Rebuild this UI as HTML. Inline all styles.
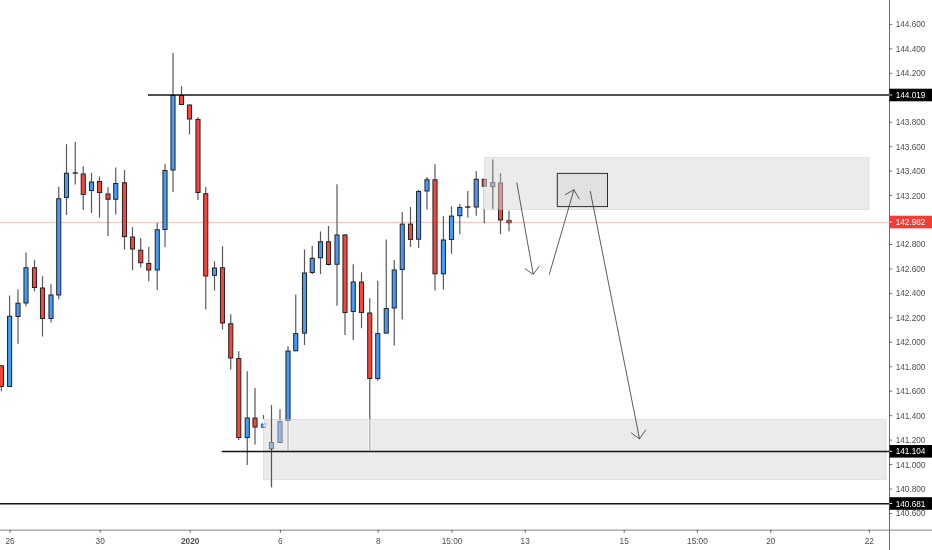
<!DOCTYPE html>
<html lang="en"><head><meta charset="utf-8"><title>Chart</title>
<style>html,body{margin:0;padding:0;background:#fff}body{width:932px;height:550px;overflow:hidden;position:relative}</style>
</head><body>
<svg width="932" height="550" viewBox="0 0 932 550" style="position:absolute;left:0;top:0">
<rect width="932" height="550" fill="#fff"/>
<line x1="0" y1="222.3" x2="889" y2="222.3" stroke="#f8b4b0" stroke-width="0.9"/>
<g id="candles">
<line x1="1.35" y1="365.25" x2="1.35" y2="391.25" stroke="#59595c" stroke-width="1.2"/>
<rect x="-0.70" y="365.75" width="4.10" height="20.75" fill="#fa4439" stroke="#222" stroke-width="1.0"/>
<line x1="9.6" y1="295.5" x2="9.6" y2="387.0" stroke="#59595c" stroke-width="1.2"/>
<rect x="7.55" y="316.25" width="4.10" height="70.25" fill="#459bfb" stroke="#222" stroke-width="1.0"/>
<line x1="18" y1="289.5" x2="18" y2="343.75" stroke="#59595c" stroke-width="1.2"/>
<rect x="15.95" y="303.25" width="4.10" height="13.25" fill="#459bfb" stroke="#222" stroke-width="1.0"/>
<line x1="26" y1="252.5" x2="26" y2="306.25" stroke="#59595c" stroke-width="1.2"/>
<rect x="23.95" y="267.75" width="4.10" height="35.25" fill="#459bfb" stroke="#222" stroke-width="1.0"/>
<line x1="34.5" y1="260" x2="34.5" y2="291.25" stroke="#59595c" stroke-width="1.2"/>
<rect x="32.45" y="267.75" width="4.10" height="19.75" fill="#fa4439" stroke="#222" stroke-width="1.0"/>
<line x1="42.5" y1="276.25" x2="42.5" y2="336.5" stroke="#59595c" stroke-width="1.2"/>
<rect x="40.45" y="288.00" width="4.10" height="30.50" fill="#fa4439" stroke="#222" stroke-width="1.0"/>
<line x1="51" y1="284.25" x2="51" y2="322.5" stroke="#59595c" stroke-width="1.2"/>
<rect x="48.95" y="295.00" width="4.10" height="23.50" fill="#459bfb" stroke="#222" stroke-width="1.0"/>
<line x1="58.75" y1="186.75" x2="58.75" y2="299.25" stroke="#59595c" stroke-width="1.2"/>
<rect x="56.70" y="198.75" width="4.10" height="96.25" fill="#459bfb" stroke="#222" stroke-width="1.0"/>
<line x1="66.5" y1="144.25" x2="66.5" y2="215" stroke="#59595c" stroke-width="1.2"/>
<rect x="64.45" y="173.25" width="4.10" height="24.25" fill="#459bfb" stroke="#222" stroke-width="1.0"/>
<line x1="75.25" y1="141.75" x2="75.25" y2="184.5" stroke="#59595c" stroke-width="1.2"/>
<line x1="72.65" y1="173" x2="77.85" y2="173" stroke="#111" stroke-width="1.3"/>
<line x1="83.25" y1="166.25" x2="83.25" y2="210" stroke="#59595c" stroke-width="1.2"/>
<rect x="81.20" y="174.00" width="4.10" height="20.50" fill="#fa4439" stroke="#222" stroke-width="1.0"/>
<line x1="91.5" y1="172.75" x2="91.5" y2="213" stroke="#59595c" stroke-width="1.2"/>
<rect x="89.45" y="182.00" width="4.10" height="8.50" fill="#459bfb" stroke="#222" stroke-width="1.0"/>
<line x1="99.5" y1="176.5" x2="99.5" y2="217.5" stroke="#59595c" stroke-width="1.2"/>
<rect x="97.45" y="181.50" width="4.10" height="11.00" fill="#fa4439" stroke="#222" stroke-width="1.0"/>
<line x1="108" y1="187.25" x2="108" y2="236" stroke="#59595c" stroke-width="1.2"/>
<rect x="105.95" y="194.00" width="4.10" height="5.25" fill="#fa4439" stroke="#222" stroke-width="1.0"/>
<line x1="115.75" y1="167.5" x2="115.75" y2="214.5" stroke="#59595c" stroke-width="1.2"/>
<rect x="113.70" y="183.50" width="4.10" height="15.75" fill="#459bfb" stroke="#222" stroke-width="1.0"/>
<line x1="124.5" y1="170" x2="124.5" y2="249.4" stroke="#59595c" stroke-width="1.2"/>
<rect x="122.45" y="182.75" width="4.10" height="53.85" fill="#fa4439" stroke="#222" stroke-width="1.0"/>
<line x1="132.5" y1="227.25" x2="132.5" y2="270.25" stroke="#59595c" stroke-width="1.2"/>
<rect x="130.45" y="237.10" width="4.10" height="11.90" fill="#fa4439" stroke="#222" stroke-width="1.0"/>
<line x1="140.75" y1="238" x2="140.75" y2="267.5" stroke="#59595c" stroke-width="1.2"/>
<rect x="138.70" y="250.25" width="4.10" height="12.50" fill="#fa4439" stroke="#222" stroke-width="1.0"/>
<line x1="148.75" y1="247" x2="148.75" y2="281.25" stroke="#59595c" stroke-width="1.2"/>
<rect x="146.70" y="263.50" width="4.10" height="6.50" fill="#fa4439" stroke="#222" stroke-width="1.0"/>
<line x1="157.25" y1="222.75" x2="157.25" y2="290" stroke="#59595c" stroke-width="1.2"/>
<rect x="155.20" y="229.75" width="4.10" height="40.25" fill="#459bfb" stroke="#222" stroke-width="1.0"/>
<line x1="165" y1="164" x2="165" y2="247" stroke="#59595c" stroke-width="1.2"/>
<rect x="162.95" y="170.50" width="4.10" height="59.00" fill="#459bfb" stroke="#222" stroke-width="1.0"/>
<line x1="173" y1="53" x2="173" y2="192" stroke="#59595c" stroke-width="1.2"/>
<rect x="170.95" y="95.50" width="4.10" height="74.50" fill="#459bfb" stroke="#222" stroke-width="1.0"/>
<line x1="181.5" y1="86.25" x2="181.5" y2="105.0" stroke="#59595c" stroke-width="1.2"/>
<rect x="179.45" y="95.50" width="4.10" height="9.00" fill="#fa4439" stroke="#222" stroke-width="1.0"/>
<line x1="189.5" y1="104.5" x2="189.5" y2="134.5" stroke="#59595c" stroke-width="1.2"/>
<rect x="187.45" y="105.00" width="4.10" height="14.00" fill="#fa4439" stroke="#222" stroke-width="1.0"/>
<line x1="198" y1="117" x2="198" y2="200" stroke="#59595c" stroke-width="1.2"/>
<rect x="195.95" y="119.50" width="4.10" height="73.00" fill="#fa4439" stroke="#222" stroke-width="1.0"/>
<line x1="205.75" y1="187" x2="205.75" y2="309.5" stroke="#59595c" stroke-width="1.2"/>
<rect x="203.70" y="193.75" width="4.10" height="82.25" fill="#fa4439" stroke="#222" stroke-width="1.0"/>
<line x1="214.5" y1="261.25" x2="214.5" y2="290.5" stroke="#59595c" stroke-width="1.2"/>
<rect x="212.45" y="268.00" width="4.10" height="7.25" fill="#459bfb" stroke="#222" stroke-width="1.0"/>
<line x1="222.5" y1="246.25" x2="222.5" y2="329.5" stroke="#59595c" stroke-width="1.2"/>
<rect x="220.45" y="267.75" width="4.10" height="55.25" fill="#fa4439" stroke="#222" stroke-width="1.0"/>
<line x1="230.75" y1="314.25" x2="230.75" y2="369.5" stroke="#59595c" stroke-width="1.2"/>
<rect x="228.70" y="323.75" width="4.10" height="34.25" fill="#fa4439" stroke="#222" stroke-width="1.0"/>
<line x1="238.75" y1="351.25" x2="238.75" y2="440" stroke="#59595c" stroke-width="1.2"/>
<rect x="236.70" y="358.50" width="4.10" height="79.00" fill="#fa4439" stroke="#222" stroke-width="1.0"/>
<line x1="247.25" y1="371.25" x2="247.25" y2="465" stroke="#59595c" stroke-width="1.2"/>
<rect x="245.20" y="418.00" width="4.10" height="19.50" fill="#459bfb" stroke="#222" stroke-width="1.0"/>
<line x1="255" y1="388" x2="255" y2="444.5" stroke="#59595c" stroke-width="1.2"/>
<rect x="252.95" y="418.00" width="4.10" height="9.00" fill="#fa4439" stroke="#222" stroke-width="1.0"/>
<line x1="263.5" y1="415" x2="263.5" y2="427.8" stroke="#59595c" stroke-width="1.2"/>
<rect x="261.25" y="423.90" width="4.50" height="3.60" fill="#459bfb" stroke="#222" stroke-width="0.6"/>
<line x1="271.5" y1="405" x2="271.5" y2="487.3" stroke="#59595c" stroke-width="1.2"/>
<rect x="269.45" y="442.50" width="4.10" height="6.25" fill="#459bfb" stroke="#222" stroke-width="1.0"/>
<line x1="280" y1="409.25" x2="280" y2="443.0" stroke="#59595c" stroke-width="1.2"/>
<rect x="277.95" y="421.75" width="4.10" height="20.75" fill="#459bfb" stroke="#222" stroke-width="1.0"/>
<line x1="288" y1="346.25" x2="288" y2="450" stroke="#59595c" stroke-width="1.2"/>
<rect x="285.95" y="351.00" width="4.10" height="69.50" fill="#459bfb" stroke="#222" stroke-width="1.0"/>
<line x1="295.75" y1="294.5" x2="295.75" y2="351.25" stroke="#59595c" stroke-width="1.2"/>
<rect x="293.70" y="333.60" width="4.10" height="17.15" fill="#459bfb" stroke="#222" stroke-width="1.0"/>
<line x1="304.5" y1="249.5" x2="304.5" y2="345" stroke="#59595c" stroke-width="1.2"/>
<rect x="302.45" y="273.00" width="4.10" height="60.10" fill="#459bfb" stroke="#222" stroke-width="1.0"/>
<line x1="312.25" y1="246" x2="312.25" y2="274.25" stroke="#59595c" stroke-width="1.2"/>
<rect x="310.20" y="258.25" width="4.10" height="14.25" fill="#459bfb" stroke="#222" stroke-width="1.0"/>
<line x1="320.5" y1="231.5" x2="320.5" y2="274" stroke="#59595c" stroke-width="1.2"/>
<rect x="318.45" y="241.75" width="4.10" height="16.00" fill="#459bfb" stroke="#222" stroke-width="1.0"/>
<line x1="328.5" y1="226" x2="328.5" y2="265.5" stroke="#59595c" stroke-width="1.2"/>
<rect x="326.45" y="241.75" width="4.10" height="22.75" fill="#fa4439" stroke="#222" stroke-width="1.0"/>
<line x1="337" y1="184.3" x2="337" y2="305.75" stroke="#59595c" stroke-width="1.2"/>
<rect x="334.95" y="235.00" width="4.10" height="29.25" fill="#459bfb" stroke="#222" stroke-width="1.0"/>
<line x1="345" y1="234" x2="345" y2="335" stroke="#59595c" stroke-width="1.2"/>
<rect x="342.95" y="235.00" width="4.10" height="77.50" fill="#fa4439" stroke="#222" stroke-width="1.0"/>
<line x1="353.25" y1="264.25" x2="353.25" y2="340" stroke="#59595c" stroke-width="1.2"/>
<rect x="351.20" y="282.00" width="4.10" height="29.50" fill="#459bfb" stroke="#222" stroke-width="1.0"/>
<line x1="361.5" y1="272.25" x2="361.5" y2="328.25" stroke="#59595c" stroke-width="1.2"/>
<rect x="359.45" y="282.00" width="4.10" height="30.50" fill="#fa4439" stroke="#222" stroke-width="1.0"/>
<line x1="369.75" y1="298.25" x2="369.75" y2="450" stroke="#59595c" stroke-width="1.2"/>
<rect x="367.70" y="313.00" width="4.10" height="65.50" fill="#fa4439" stroke="#222" stroke-width="1.0"/>
<line x1="377.75" y1="280.75" x2="377.75" y2="380.75" stroke="#59595c" stroke-width="1.2"/>
<rect x="375.70" y="333.60" width="4.10" height="44.90" fill="#459bfb" stroke="#222" stroke-width="1.0"/>
<line x1="386.25" y1="239.4" x2="386.25" y2="333.6" stroke="#59595c" stroke-width="1.2"/>
<rect x="384.20" y="308.50" width="4.10" height="24.60" fill="#459bfb" stroke="#222" stroke-width="1.0"/>
<line x1="394.25" y1="260" x2="394.25" y2="345.5" stroke="#59595c" stroke-width="1.2"/>
<rect x="392.20" y="270.00" width="4.10" height="38.00" fill="#459bfb" stroke="#222" stroke-width="1.0"/>
<line x1="402.25" y1="212" x2="402.25" y2="319.5" stroke="#59595c" stroke-width="1.2"/>
<rect x="400.20" y="224.10" width="4.10" height="45.40" fill="#459bfb" stroke="#222" stroke-width="1.0"/>
<line x1="410.5" y1="207" x2="410.5" y2="247" stroke="#59595c" stroke-width="1.2"/>
<rect x="408.45" y="224.10" width="4.10" height="15.30" fill="#fa4439" stroke="#222" stroke-width="1.0"/>
<line x1="418.6" y1="190" x2="418.6" y2="248" stroke="#59595c" stroke-width="1.2"/>
<rect x="416.55" y="191.50" width="4.10" height="47.70" fill="#459bfb" stroke="#222" stroke-width="1.0"/>
<line x1="427" y1="177" x2="427" y2="209.5" stroke="#59595c" stroke-width="1.2"/>
<rect x="424.95" y="179.75" width="4.10" height="11.25" fill="#459bfb" stroke="#222" stroke-width="1.0"/>
<line x1="435" y1="164.25" x2="435" y2="290.5" stroke="#59595c" stroke-width="1.2"/>
<rect x="432.95" y="179.75" width="4.10" height="94.00" fill="#fa4439" stroke="#222" stroke-width="1.0"/>
<line x1="443.4" y1="216.25" x2="443.4" y2="289.5" stroke="#59595c" stroke-width="1.2"/>
<rect x="441.35" y="240.00" width="4.10" height="33.75" fill="#459bfb" stroke="#222" stroke-width="1.0"/>
<line x1="451.5" y1="206.25" x2="451.5" y2="253.75" stroke="#59595c" stroke-width="1.2"/>
<rect x="449.45" y="216.10" width="4.10" height="23.40" fill="#459bfb" stroke="#222" stroke-width="1.0"/>
<line x1="459.8" y1="204" x2="459.8" y2="234.25" stroke="#59595c" stroke-width="1.2"/>
<rect x="457.75" y="207.50" width="4.10" height="8.20" fill="#459bfb" stroke="#222" stroke-width="1.0"/>
<line x1="467.8" y1="190.9" x2="467.8" y2="217.5" stroke="#59595c" stroke-width="1.2"/>
<line x1="465.2" y1="207" x2="470.40000000000003" y2="207" stroke="#111" stroke-width="1.3"/>
<line x1="476.25" y1="171.25" x2="476.25" y2="215.75" stroke="#59595c" stroke-width="1.2"/>
<rect x="474.20" y="179.25" width="4.10" height="27.75" fill="#459bfb" stroke="#222" stroke-width="1.0"/>
<line x1="484.25" y1="178.75" x2="484.25" y2="223.25" stroke="#59595c" stroke-width="1.2"/>
<rect x="482.20" y="179.25" width="4.10" height="7.00" fill="#fa4439" stroke="#222" stroke-width="1.0"/>
<line x1="492.75" y1="159.5" x2="492.75" y2="208.75" stroke="#59595c" stroke-width="1.2"/>
<rect x="490.70" y="182.60" width="4.10" height="4.10" fill="#459bfb" stroke="#222" stroke-width="1.0"/>
<line x1="500.5" y1="173.25" x2="500.5" y2="234.25" stroke="#59595c" stroke-width="1.2"/>
<rect x="498.45" y="183.00" width="4.10" height="37.00" fill="#fa4439" stroke="#222" stroke-width="1.0"/>
<line x1="509" y1="210.75" x2="509" y2="231.25" stroke="#59595c" stroke-width="1.2"/>
<rect x="506.75" y="220.20" width="4.50" height="2.70" fill="#fa4439" stroke="#222" stroke-width="0.6"/>
</g>
<rect x="484.3" y="157.6" width="384.7" height="51.8" fill="rgba(215,215,215,0.5)" stroke="rgba(190,190,190,0.45)" stroke-width="0.8"/>
<rect x="263.4" y="419.3" width="622.6" height="60.1" fill="rgba(215,215,215,0.5)" stroke="rgba(190,190,190,0.45)" stroke-width="0.8"/>
<rect x="557.3" y="173.4" width="50.2" height="33.2" fill="rgba(215,215,215,0.5)" stroke="#2e2e2e" stroke-width="1"/>
<line x1="271.5" y1="419" x2="271.5" y2="442" stroke="#555558" stroke-width="1.1"/>
<line x1="271.5" y1="448.7" x2="271.5" y2="487.3" stroke="#555558" stroke-width="1.1"/>
<line x1="492.75" y1="159.5" x2="492.75" y2="182.5" stroke="#8a8a8c" stroke-width="1.2"/>
<line x1="492.75" y1="186.2" x2="492.75" y2="208.75" stroke="#8a8a8c" stroke-width="1.2"/>
<line x1="500.5" y1="173.25" x2="500.5" y2="182.5" stroke="#8a8a8c" stroke-width="1.2"/>
<line x1="288" y1="421" x2="288" y2="450" stroke="#f8f8f8" stroke-width="3.2"/>
<line x1="288" y1="421" x2="288" y2="450" stroke="#aeaeb2" stroke-width="1.3"/>
<line x1="369.75" y1="419.8" x2="369.75" y2="450" stroke="#f8f8f8" stroke-width="3.2"/>
<line x1="369.75" y1="419.8" x2="369.75" y2="450" stroke="#aeaeb2" stroke-width="1.3"/>
<line x1="484.25" y1="186.5" x2="484.25" y2="209" stroke="#f3f3f3" stroke-width="1.2"/>
<line x1="263.5" y1="419" x2="263.5" y2="424" stroke="#f3f3f3" stroke-width="1.2"/>
<rect x="263.7" y="424.4" width="2.0" height="2.2" fill="#e9eef6"/>
<line x1="148" y1="95.0" x2="889.5" y2="95.0" stroke="#151515" stroke-width="1.4"/>
<line x1="221.75" y1="451.45" x2="889.5" y2="451.45" stroke="#151515" stroke-width="1.4"/>
<line x1="0" y1="503.7" x2="889.5" y2="503.7" stroke="#151515" stroke-width="1.4"/>
<path d="M516.85 182.9 L533.25 274.25 M525 268.75 L533.25 274.25 L539.25 266.25" fill="none" stroke="#444" stroke-width="0.88" stroke-linecap="round" stroke-linejoin="round"/>
<path d="M549.35 274.25 L573.9 189.8 M565.4 194.6 L573.9 189.8 L579.2 198.8" fill="none" stroke="#444" stroke-width="0.88" stroke-linecap="round" stroke-linejoin="round"/>
<path d="M590.3 191.4 L639.5 438.75 M631.25 433 L639.5 438.75 L645.75 430" fill="none" stroke="#444" stroke-width="0.88" stroke-linecap="round" stroke-linejoin="round"/>
<line x1="0" y1="530.1" x2="932" y2="530.1" stroke="#9a9da6" stroke-width="1.3"/>
<line x1="889.5" y1="0" x2="889.5" y2="550" stroke="#6a6d78" stroke-width="1"/>
<line x1="889.5" y1="24.40" x2="892.2" y2="24.40" stroke="#6a6d78" stroke-width="1"/>
<text x="895.7" y="27.40" font-family="Liberation Sans, Arial, sans-serif" font-size="9.3" textLength="29.7" lengthAdjust="spacingAndGlyphs" fill="#4b4e56">144.600</text>
<line x1="889.5" y1="48.85" x2="892.2" y2="48.85" stroke="#6a6d78" stroke-width="1"/>
<text x="895.7" y="51.85" font-family="Liberation Sans, Arial, sans-serif" font-size="9.3" textLength="29.7" lengthAdjust="spacingAndGlyphs" fill="#4b4e56">144.400</text>
<line x1="889.5" y1="73.31" x2="892.2" y2="73.31" stroke="#6a6d78" stroke-width="1"/>
<text x="895.7" y="76.31" font-family="Liberation Sans, Arial, sans-serif" font-size="9.3" textLength="29.7" lengthAdjust="spacingAndGlyphs" fill="#4b4e56">144.200</text>
<line x1="889.5" y1="97.76" x2="892.2" y2="97.76" stroke="#6a6d78" stroke-width="1"/>
<text x="895.7" y="100.76" font-family="Liberation Sans, Arial, sans-serif" font-size="9.3" textLength="29.7" lengthAdjust="spacingAndGlyphs" fill="#4b4e56">144.000</text>
<line x1="889.5" y1="122.22" x2="892.2" y2="122.22" stroke="#6a6d78" stroke-width="1"/>
<text x="895.7" y="125.22" font-family="Liberation Sans, Arial, sans-serif" font-size="9.3" textLength="29.7" lengthAdjust="spacingAndGlyphs" fill="#4b4e56">143.800</text>
<line x1="889.5" y1="146.67" x2="892.2" y2="146.67" stroke="#6a6d78" stroke-width="1"/>
<text x="895.7" y="149.67" font-family="Liberation Sans, Arial, sans-serif" font-size="9.3" textLength="29.7" lengthAdjust="spacingAndGlyphs" fill="#4b4e56">143.600</text>
<line x1="889.5" y1="171.12" x2="892.2" y2="171.12" stroke="#6a6d78" stroke-width="1"/>
<text x="895.7" y="174.12" font-family="Liberation Sans, Arial, sans-serif" font-size="9.3" textLength="29.7" lengthAdjust="spacingAndGlyphs" fill="#4b4e56">143.400</text>
<line x1="889.5" y1="195.58" x2="892.2" y2="195.58" stroke="#6a6d78" stroke-width="1"/>
<text x="895.7" y="198.58" font-family="Liberation Sans, Arial, sans-serif" font-size="9.3" textLength="29.7" lengthAdjust="spacingAndGlyphs" fill="#4b4e56">143.200</text>
<line x1="889.5" y1="220.03" x2="892.2" y2="220.03" stroke="#6a6d78" stroke-width="1"/>
<text x="895.7" y="223.03" font-family="Liberation Sans, Arial, sans-serif" font-size="9.3" textLength="29.7" lengthAdjust="spacingAndGlyphs" fill="#4b4e56">143.000</text>
<line x1="889.5" y1="244.49" x2="892.2" y2="244.49" stroke="#6a6d78" stroke-width="1"/>
<text x="895.7" y="247.49" font-family="Liberation Sans, Arial, sans-serif" font-size="9.3" textLength="29.7" lengthAdjust="spacingAndGlyphs" fill="#4b4e56">142.800</text>
<line x1="889.5" y1="268.94" x2="892.2" y2="268.94" stroke="#6a6d78" stroke-width="1"/>
<text x="895.7" y="271.94" font-family="Liberation Sans, Arial, sans-serif" font-size="9.3" textLength="29.7" lengthAdjust="spacingAndGlyphs" fill="#4b4e56">142.600</text>
<line x1="889.5" y1="293.39" x2="892.2" y2="293.39" stroke="#6a6d78" stroke-width="1"/>
<text x="895.7" y="296.39" font-family="Liberation Sans, Arial, sans-serif" font-size="9.3" textLength="29.7" lengthAdjust="spacingAndGlyphs" fill="#4b4e56">142.400</text>
<line x1="889.5" y1="317.85" x2="892.2" y2="317.85" stroke="#6a6d78" stroke-width="1"/>
<text x="895.7" y="320.85" font-family="Liberation Sans, Arial, sans-serif" font-size="9.3" textLength="29.7" lengthAdjust="spacingAndGlyphs" fill="#4b4e56">142.200</text>
<line x1="889.5" y1="342.30" x2="892.2" y2="342.30" stroke="#6a6d78" stroke-width="1"/>
<text x="895.7" y="345.30" font-family="Liberation Sans, Arial, sans-serif" font-size="9.3" textLength="29.7" lengthAdjust="spacingAndGlyphs" fill="#4b4e56">142.000</text>
<line x1="889.5" y1="366.76" x2="892.2" y2="366.76" stroke="#6a6d78" stroke-width="1"/>
<text x="895.7" y="369.76" font-family="Liberation Sans, Arial, sans-serif" font-size="9.3" textLength="29.7" lengthAdjust="spacingAndGlyphs" fill="#4b4e56">141.800</text>
<line x1="889.5" y1="391.21" x2="892.2" y2="391.21" stroke="#6a6d78" stroke-width="1"/>
<text x="895.7" y="394.21" font-family="Liberation Sans, Arial, sans-serif" font-size="9.3" textLength="29.7" lengthAdjust="spacingAndGlyphs" fill="#4b4e56">141.600</text>
<line x1="889.5" y1="415.66" x2="892.2" y2="415.66" stroke="#6a6d78" stroke-width="1"/>
<text x="895.7" y="418.66" font-family="Liberation Sans, Arial, sans-serif" font-size="9.3" textLength="29.7" lengthAdjust="spacingAndGlyphs" fill="#4b4e56">141.400</text>
<line x1="889.5" y1="440.12" x2="892.2" y2="440.12" stroke="#6a6d78" stroke-width="1"/>
<text x="895.7" y="443.12" font-family="Liberation Sans, Arial, sans-serif" font-size="9.3" textLength="29.7" lengthAdjust="spacingAndGlyphs" fill="#4b4e56">141.200</text>
<line x1="889.5" y1="464.57" x2="892.2" y2="464.57" stroke="#6a6d78" stroke-width="1"/>
<text x="895.7" y="467.57" font-family="Liberation Sans, Arial, sans-serif" font-size="9.3" textLength="29.7" lengthAdjust="spacingAndGlyphs" fill="#4b4e56">141.000</text>
<line x1="889.5" y1="489.03" x2="892.2" y2="489.03" stroke="#6a6d78" stroke-width="1"/>
<text x="895.7" y="492.03" font-family="Liberation Sans, Arial, sans-serif" font-size="9.3" textLength="29.7" lengthAdjust="spacingAndGlyphs" fill="#4b4e56">140.800</text>
<line x1="889.5" y1="513.48" x2="892.2" y2="513.48" stroke="#6a6d78" stroke-width="1"/>
<text x="895.7" y="516.48" font-family="Liberation Sans, Arial, sans-serif" font-size="9.3" textLength="29.7" lengthAdjust="spacingAndGlyphs" fill="#4b4e56">140.600</text>
<rect x="889.5" y="88.70" width="42.5" height="12.6" fill="#000"/>
<line x1="889.5" y1="95.00" x2="892.2" y2="95.00" stroke="#ddd" stroke-width="1"/>
<text x="895.7" y="98.00" font-family="Liberation Sans, Arial, sans-serif" font-size="9.3" textLength="29.7" lengthAdjust="spacingAndGlyphs" fill="#fff">144.019</text>
<rect x="889.5" y="215.70" width="42.5" height="12.6" fill="#f03e36"/>
<line x1="889.5" y1="222.00" x2="892.2" y2="222.00" stroke="#ddd" stroke-width="1"/>
<text x="895.7" y="225.00" font-family="Liberation Sans, Arial, sans-serif" font-size="9.3" textLength="29.7" lengthAdjust="spacingAndGlyphs" fill="#fff">142.982</text>
<rect x="889.5" y="445.00" width="42.5" height="12.6" fill="#000"/>
<line x1="889.5" y1="451.30" x2="892.2" y2="451.30" stroke="#ddd" stroke-width="1"/>
<text x="895.7" y="454.30" font-family="Liberation Sans, Arial, sans-serif" font-size="9.3" textLength="29.7" lengthAdjust="spacingAndGlyphs" fill="#fff">141.104</text>
<rect x="889.5" y="497.20" width="42.5" height="12.6" fill="#000"/>
<line x1="889.5" y1="503.50" x2="892.2" y2="503.50" stroke="#ddd" stroke-width="1"/>
<text x="895.7" y="506.50" font-family="Liberation Sans, Arial, sans-serif" font-size="9.3" textLength="29.7" lengthAdjust="spacingAndGlyphs" fill="#fff">140.681</text>
<line x1="10" y1="530" x2="10" y2="532.6" stroke="#50535a" stroke-width="1"/>
<text transform="translate(10 544.2) scale(0.89 1)" text-anchor="middle" font-family="Liberation Sans, Arial, sans-serif" font-size="9.3" fill="#4b4e56">26</text>
<line x1="100.2" y1="530" x2="100.2" y2="532.6" stroke="#50535a" stroke-width="1"/>
<text transform="translate(100.2 544.2) scale(0.89 1)" text-anchor="middle" font-family="Liberation Sans, Arial, sans-serif" font-size="9.3" fill="#4b4e56">30</text>
<line x1="190.2" y1="530" x2="190.2" y2="532.6" stroke="#50535a" stroke-width="1"/>
<text transform="translate(190.2 544.2) scale(0.89 1)" text-anchor="middle" font-family="Liberation Sans, Arial, sans-serif" font-size="9.3" font-weight="bold" fill="#4b4e56">2020</text>
<line x1="280.4" y1="530" x2="280.4" y2="532.6" stroke="#50535a" stroke-width="1"/>
<text transform="translate(280.4 544.2) scale(0.89 1)" text-anchor="middle" font-family="Liberation Sans, Arial, sans-serif" font-size="9.3" fill="#4b4e56">6</text>
<line x1="378.2" y1="530" x2="378.2" y2="532.6" stroke="#50535a" stroke-width="1"/>
<text transform="translate(378.2 544.2) scale(0.89 1)" text-anchor="middle" font-family="Liberation Sans, Arial, sans-serif" font-size="9.3" fill="#4b4e56">8</text>
<line x1="452" y1="530" x2="452" y2="532.6" stroke="#50535a" stroke-width="1"/>
<text transform="translate(452 544.2) scale(0.89 1)" text-anchor="middle" font-family="Liberation Sans, Arial, sans-serif" font-size="9.3" fill="#4b4e56">15:00</text>
<line x1="525.2" y1="530" x2="525.2" y2="532.6" stroke="#50535a" stroke-width="1"/>
<text transform="translate(525.2 544.2) scale(0.89 1)" text-anchor="middle" font-family="Liberation Sans, Arial, sans-serif" font-size="9.3" fill="#4b4e56">13</text>
<line x1="624.2" y1="530" x2="624.2" y2="532.6" stroke="#50535a" stroke-width="1"/>
<text transform="translate(624.2 544.2) scale(0.89 1)" text-anchor="middle" font-family="Liberation Sans, Arial, sans-serif" font-size="9.3" fill="#4b4e56">15</text>
<line x1="697.4" y1="530" x2="697.4" y2="532.6" stroke="#50535a" stroke-width="1"/>
<text transform="translate(697.4 544.2) scale(0.89 1)" text-anchor="middle" font-family="Liberation Sans, Arial, sans-serif" font-size="9.3" fill="#4b4e56">15:00</text>
<line x1="770.8" y1="530" x2="770.8" y2="532.6" stroke="#50535a" stroke-width="1"/>
<text transform="translate(770.8 544.2) scale(0.89 1)" text-anchor="middle" font-family="Liberation Sans, Arial, sans-serif" font-size="9.3" fill="#4b4e56">20</text>
<line x1="869.3" y1="530" x2="869.3" y2="532.6" stroke="#50535a" stroke-width="1"/>
<text transform="translate(869.3 544.2) scale(0.89 1)" text-anchor="middle" font-family="Liberation Sans, Arial, sans-serif" font-size="9.3" fill="#4b4e56">22</text>
</svg>
</body></html>
